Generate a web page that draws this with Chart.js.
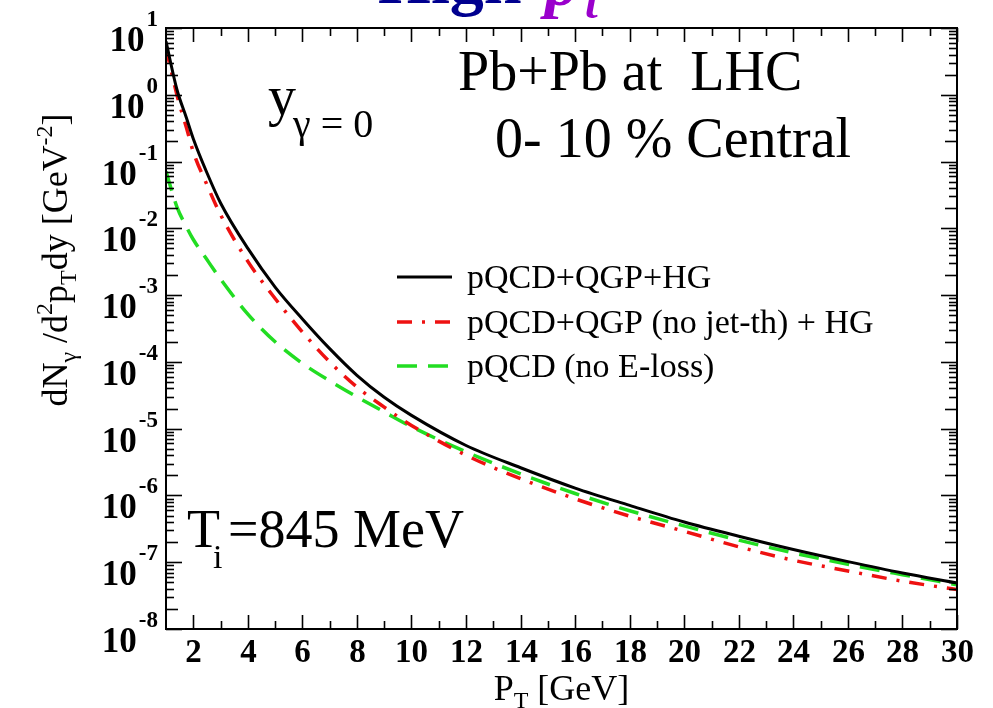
<!DOCTYPE html>
<html>
<head>
<meta charset="utf-8">
<script src="https://cdn.jsdelivr.net/npm/chart.js@4.4.1/dist/chart.umd.min.js"></script>
<style>
  html, body { margin: 0; padding: 0; background: #fff; }
  #wrap { width: 993px; height: 708px; position: relative; }
</style>
</head>
<body>
<div id="wrap"><canvas id="c"></canvas></div>
<script>
// photon spectra (pT in GeV, dN/d2pTdy in GeV^-2)
const pT = [1, 1.4, 1.75, 2, 2.5, 3, 4, 5, 6, 7, 8, 9, 10, 12, 14, 16, 18, 20, 22, 24, 26, 28, 30];
const qgpHg = [6.3, 1.2, 0.45, 0.22, 0.068, 0.024, 5.0e-3, 1.32e-3, 4.4e-4, 1.58e-4, 6.3e-5, 2.95e-5, 1.58e-5,
  5.6e-6, 2.6e-6, 1.29e-6, 7.1e-7, 4.0e-7, 2.45e-7, 1.55e-7, 1.02e-7, 6.9e-8, 4.9e-8];
const noJetTh = [5.0, 1.0, 0.32, 0.14, 0.045, 0.016, 3.2e-3, 8.9e-4, 2.8e-4, 1.0e-4, 4.2e-5, 2.1e-5, 1.12e-5,
  4.0e-6, 1.78e-6, 8.9e-7, 4.9e-7, 2.9e-7, 1.7e-7, 1.07e-7, 7.4e-8, 5.2e-8, 3.9e-8];
const noEloss = [0.071, 0.021, 0.0105, 6.8e-3, 3.4e-3, 1.74e-3, 5.2e-4, 2.0e-4, 9.5e-5, 5.2e-5, 3.0e-5, 1.78e-5, 1.07e-5,
  4.5e-6, 2.1e-6, 1.07e-6, 5.9e-7, 3.5e-7, 2.14e-7, 1.38e-7, 9.3e-8, 6.5e-8, 4.6e-8];
const seriesNames = ['pQCD+QGP+HG', 'pQCD+QGP (no jet-th) + HG', 'pQCD (no E-loss)'];

// tick labels
const xMajor = [2, 4, 6, 8, 10, 12, 14, 16, 18, 20, 22, 24, 26, 28, 30];
const xMinor = [3, 5, 7, 9, 11, 13, 15, 17, 19, 21, 23, 25, 27, 29];
const yExp = [-8, -7, -6, -5, -4, -3, -2, -1, 0, 1];
const yMant = [2, 3, 4, 5, 6, 7, 8, 9];

const SERIF = '"Liberation Serif", "Times New Roman", serif';

function pts(ys) { return pT.map((x, i) => ({ x: x, y: ys[i] })); }

function drawParts(ctx, parts, x, y) {
  parts.forEach(p => {
    ctx.font = p[1];
    ctx.fillText(p[0], x, y + (p[2] || 0));
    x += ctx.measureText(p[0]).width;
  });
  return x;
}
function partsWidth(ctx, parts) {
  let w = 0;
  parts.forEach(p => { ctx.font = p[1]; w += ctx.measureText(p[0]).width; });
  return w;
}
function seg(ctx, x1, y1, x2, y2) {
  ctx.beginPath();
  ctx.moveTo(x1, y1);
  ctx.lineTo(x2, y2);
  ctx.stroke();
}

const decor = {
  id: 'decor',
  afterDraw(chart) {
    const ctx = chart.ctx;
    const a = chart.chartArea;
    const xs = chart.scales.x, ys = chart.scales.y;
    const L = a.left, R = a.right, T = a.top, B = a.bottom;
    ctx.save();
    ctx.setLineDash([]);
    ctx.globalAlpha = 1;
    ctx.strokeStyle = '#000';
    ctx.fillStyle = '#000';
    ctx.textBaseline = 'alphabetic';

    // x ticks (inward, bottom and top) with labels
    ctx.lineWidth = 1.6;
    xMinor.forEach(v => {
      const px = Math.round(xs.getPixelForValue(v)) + 0.5;
      seg(ctx, px, B, px, B - 8);
      seg(ctx, px, T, px, T + 8);
    });
    ctx.textAlign = 'center';
    ctx.font = 'bold 33px ' + SERIF;
    xMajor.forEach(v => {
      const px = Math.round(xs.getPixelForValue(v)) + 0.5;
      seg(ctx, px, B, px, B - 14);
      seg(ctx, px, T, px, T + 14);
      ctx.fillText(String(v), px, B + 33);
    });

    // y ticks (inward, left and right) with 10^n labels
    ctx.textAlign = 'left';
    yExp.forEach(e => {
      const d = Math.pow(10, e);
      const py = Math.round(ys.getPixelForValue(d)) + 0.5;
      seg(ctx, L, py, L + 16, py);
      seg(ctx, R, py, R - 16, py);
      if (e < 1) {
        yMant.forEach(m => {
          const qy = Math.round(ys.getPixelForValue(m * d)) + 0.5;
          const len = m === 2 ? 12 : 8;
          seg(ctx, L, qy, L + len, qy);
          seg(ctx, R, qy, R - len, qy);
        });
      }
      const sup = String(e);
      ctx.font = 'bold 23px ' + SERIF;
      const sw = ctx.measureText(sup).width;
      const right = L - 8;
      ctx.fillText(sup, right - sw, py - 3);
      ctx.font = 'bold 35px ' + SERIF;
      const bw = ctx.measureText('10').width;
      ctx.fillText('10', right - sw - 2 - bw, py + 22);
    });

    // frame
    ctx.lineWidth = 2;
    ctx.strokeRect(L, T, R - L, B - T);

    // axis titles
    const R36 = '36px ' + SERIF, R24 = '24px ' + SERIF;
    const xt = [['P', R36], ['T', R24, 8], [' [GeV]', R36]];
    drawParts(ctx, xt, (L + R) / 2 - partsWidth(ctx, xt) / 2, 700);

    const yt = [['dN', R36], ['\u03b3', R24, 9], [' /d', R36], ['2', R24, -15], ['p', R36], ['T', R24, 9],
      ['dy [GeV', R36], ['-2', R24, -15], [']', R36]];
    ctx.save();
    ctx.translate(67, 260);
    ctx.rotate(-Math.PI / 2);
    drawParts(ctx, yt, -partsWidth(ctx, yt) / 2, 0);
    ctx.restore();

    // annotations
    ctx.font = '56px ' + SERIF;
    ctx.fillText('Pb+Pb at  LHC', 458, 90);
    ctx.fillText('0- 10 % Central', 495, 157);
    ctx.fillText('y', 268, 115);
    ctx.font = '40px ' + SERIF;
    ctx.fillText('\u03b3 = 0', 293, 137);
    ctx.font = '54px ' + SERIF;
    ctx.fillText('T', 187, 547);
    ctx.fillText('=845 MeV', 228, 547);
    ctx.font = '34px ' + SERIF;
    ctx.fillText('i', 213, 568);

    // legend
    const rows = [277, 322, 366];
    chart.data.datasets.forEach((ds, i) => {
      ctx.save();
      ctx.strokeStyle = ds.borderColor;
      ctx.lineWidth = ds.borderWidth;
      ctx.setLineDash(ds.borderDash || []);
      seg(ctx, 397, rows[i], 452, rows[i]);
      ctx.restore();
      ctx.font = '34px ' + SERIF;
      ctx.fillText(ds.label, 467, rows[i] + 11);
    });

    // slide title, mostly above the frame
    ctx.font = 'bold 68px ' + SERIF;
    ctx.fillStyle = '#00008f';
    ctx.fillText('High', 378, 3);
    ctx.fillStyle = '#9a00cc';
    ctx.font = 'italic bold 68px ' + SERIF;
    ctx.fillText('p', 545, 5);
    ctx.font = 'italic bold 46px ' + SERIF;
    ctx.fillText('t', 585, 18);

    ctx.restore();
  }
};

new Chart(document.getElementById('c'), {
  type: 'line',
  data: {
    datasets: [
      { label: seriesNames[0], data: pts(qgpHg), borderColor: '#000000', borderWidth: 3, borderDash: [] },
      { label: seriesNames[1], data: pts(noJetTh), borderColor: '#ee1111', borderWidth: 3.5, borderDash: [15, 10, 3, 10] },
      { label: seriesNames[2], data: pts(noEloss), borderColor: '#22dd22', borderWidth: 3.5, borderDash: [20, 11] }
    ]
  },
  options: {
    responsive: true,
    maintainAspectRatio: false,
    animation: false,
    devicePixelRatio: 1,
    layout: { padding: { left: 166, top: 28, right: 36, bottom: 79 } },
    elements: {
      point: { radius: 0 },
      line: { cubicInterpolationMode: 'monotone', fill: false, borderCapStyle: 'butt' }
    },
    plugins: { legend: { display: false }, tooltip: { enabled: false }, title: { display: false } },
    scales: {
      x: {
        type: 'linear', min: 1, max: 30,
        grid: { display: false, drawTicks: false },
        border: { display: false },
        ticks: { display: false }
      },
      y: {
        type: 'logarithmic', min: 1e-8, max: 10,
        grid: { display: false, drawTicks: false },
        border: { display: false },
        ticks: { display: false }
      }
    }
  },
  plugins: [decor]
});
</script>
</body>
</html>
